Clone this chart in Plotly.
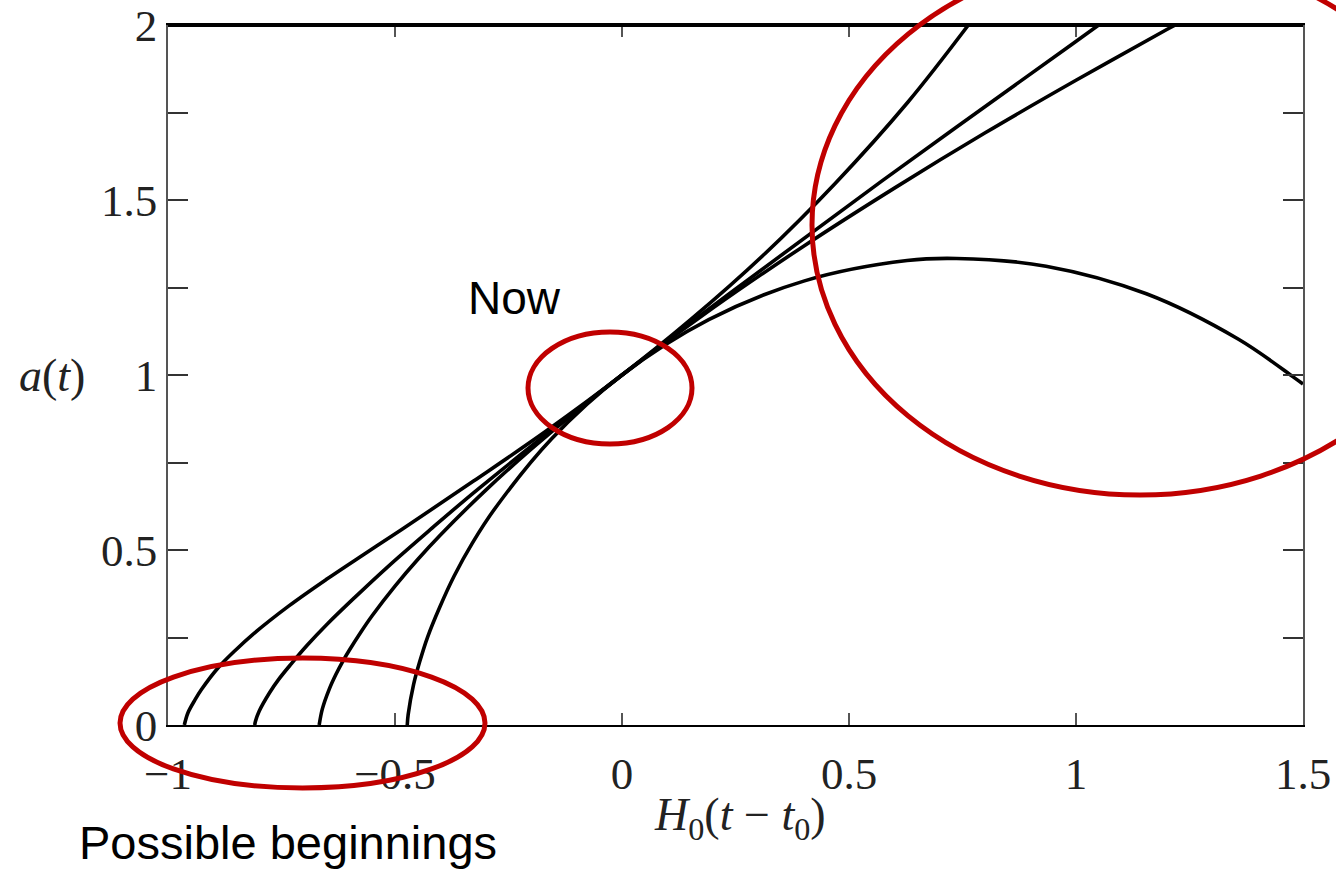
import plotly.graph_objects as go

# ---- data ----
# Curve A (accelerating, starts near -0.96)
xa = [-0.964, -0.956, -0.940, -0.926, -0.890, -0.852, -0.813, -0.733, -0.650,
      -0.568, -0.486, -0.327, -0.167, 0.0, 0.151, 0.311, 0.470, 0.630, 0.763]
ya = [0.0, 0.035, 0.073, 0.102, 0.163, 0.213, 0.259, 0.341, 0.417,
      0.488, 0.558, 0.697, 0.840, 1.0, 1.158, 1.342, 1.548, 1.780, 2.0]
# Curve B (starts near -0.81)
xb = [-0.809, -0.8075, -0.799, -0.776, -0.757, -0.729, -0.694, -0.648, -0.589,
      -0.516, -0.426, -0.317, 0.0, 0.240, 0.572, 0.989, 1.050]
yb = [0.0, 0.010, 0.040, 0.093, 0.129, 0.174, 0.227, 0.290, 0.364,
      0.452, 0.554, 0.674, 1.0, 1.236, 1.554, 1.943, 2.0]
# Curve C (starts near -0.67)
xc = [-0.667, -0.66, -0.645, -0.63, -0.615, -0.6, -0.575, -0.55, -0.5, -0.45,
      -0.4, -0.3, -0.2, -0.1, 0.0, 0.2, 0.4, 0.6, 0.8, 1.0, 1.2, 1.219]
yc = [0.0, 0.046, 0.102, 0.145, 0.182, 0.215, 0.266, 0.313, 0.397, 0.473,
      0.543, 0.671, 0.788, 0.897, 1.0, 1.191, 1.368, 1.534, 1.692, 1.842, 1.987, 2.0]
# Curve D (recollapsing, starts near -0.47)
xd = [-0.473, -0.471, -0.459, -0.446, -0.428, -0.402, -0.370, -0.329, -0.279,
      -0.155, 0.0, 0.191, 0.402, 0.628, 0.737, 0.934, 1.155, 1.358, 1.479, 1.5]
yd = [0.0, 0.030, 0.116, 0.179, 0.252, 0.335, 0.425, 0.521, 0.620,
      0.818, 1.0, 1.158, 1.269, 1.327, 1.333, 1.311, 1.232, 1.102, 0.994, 0.974]

x_tickvals = [-1, -0.5, 0, 0.5, 1, 1.5]
x_ticktext = ["\u22121", "\u22120.5", "0", "0.5", "1", "1.5"]
y_tickvals = [0, 0.25, 0.5, 0.75, 1, 1.25, 1.5, 1.75, 2]
y_ticktext = ["0", "", "0.5", "", "1", "", "1.5", "", "2"]

W, H = 1336, 869
ML, MR, MT, MB = 168, 33, 25, 144
PW, PH = W - ML - MR, H - MT - MB


def px(x):
    return (x - ML) / PW


def py(y):
    return (H - MB - y) / PH


fig = go.Figure()
for xs, ys in [(xa, ya), (xb, yb), (xc, yc), (xd, yd)]:
    fig.add_trace(go.Scatter(x=xs, y=ys, mode="lines",
                             line=dict(color="black", width=3.6, shape="spline", smoothing=1.0),
                             showlegend=False, hoverinfo="skip"))

serif = "Liberation Serif, Times New Roman, serif"
sans = "Liberation Sans, Arial, sans-serif"

fig.update_layout(
    width=W, height=H,
    margin=dict(l=ML, r=MR, t=MT, b=MB, pad=0, autoexpand=False),
    paper_bgcolor="white", plot_bgcolor="white",
    xaxis=dict(range=[-1, 1.5], tickvals=x_tickvals, ticktext=x_ticktext,
               ticks="inside", ticklen=12, tickcolor="#555", tickwidth=1.5,
               showline=True, linecolor="black", linewidth=2, mirror="ticks",
               showgrid=False, zeroline=False, automargin=False,
               ticklabelstandoff=8,
               tickfont=dict(family=serif, size=45, color="#222")),
    yaxis=dict(range=[0, 2], tickvals=y_tickvals, ticktext=y_ticktext,
               ticks="inside", ticklen=20, tickcolor="#333", tickwidth=2,
               showline=True, linecolor="#555", linewidth=1.5, mirror="ticks",
               showgrid=False, zeroline=False, automargin=False,
               ticklabelstandoff=0,
               tickfont=dict(family=serif, size=45, color="#222")),
)

# thick top frame
fig.add_shape(type="line", xref="paper", yref="paper", x0=0, x1=1, y0=1, y1=1,
              line=dict(color="black", width=4))

# axis labels
fig.add_annotation(xref="paper", yref="paper", x=px(52), y=py(375),
                   xanchor="center", yanchor="middle",
                   text="<i>a</i>(<i>t</i>)", showarrow=False,
                   font=dict(family=serif, size=46, color="#222"))
fig.add_annotation(xref="paper", yref="paper", x=px(740), y=py(818),
                   xanchor="center", yanchor="middle",
                   text="<i>H</i><sub>0</sub>(<i>t</i> \u2212 <i>t</i><sub>0</sub>)", showarrow=False,
                   font=dict(family=serif, size=46, color="#222"))

# callout texts
fig.add_annotation(xref="paper", yref="paper", x=px(514), y=py(298),
                   xanchor="center", yanchor="middle",
                   text="Now", showarrow=False,
                   font=dict(family=sans, size=46, color="black"))
fig.add_annotation(xref="paper", yref="paper", x=px(288), y=py(842),
                   xanchor="center", yanchor="middle",
                   text="Possible beginnings", showarrow=False,
                   font=dict(family=sans, size=47, color="black"))

# red ellipses
red = "#C00000"
for (x0, x1, y0, y1) in [(528, 692, 332, 444), (120, 485, 658, 788), (812, 1468, -45, 495)]:
    fig.add_shape(type="circle", xref="paper", yref="paper",
                  x0=px(x0), x1=px(x1), y0=py(y1), y1=py(y0),
                  line=dict(color=red, width=5))

fig.write_html("out.html")
